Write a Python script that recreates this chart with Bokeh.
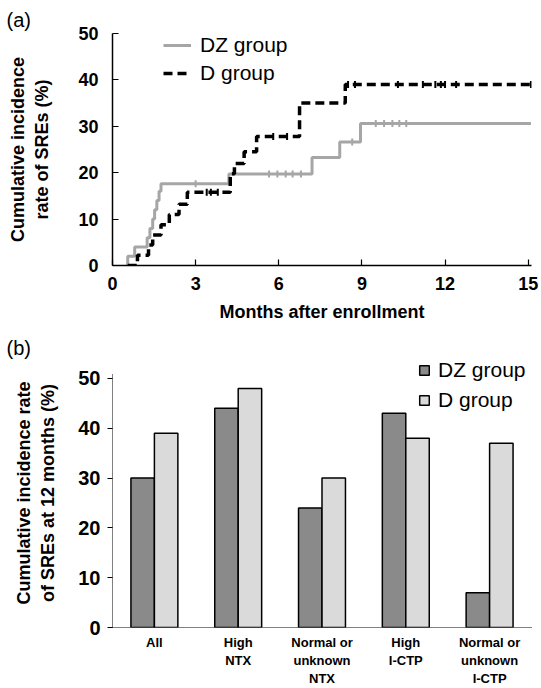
import math
from bokeh.plotting import figure
from bokeh.layouts import column
from bokeh.models import (Range1d, FactorRange, FixedTicker, Legend, LegendItem,
                          ColumnDataSource, Title)
from bokeh.transform import dodge
from bokeh.embed import file_html
from bokeh.resources import INLINE

FONT = "Liberation Sans"

# ---------------- panel (a): cumulative incidence curves ----------------
dz_months = [0.5, 0.55, 0.8, 1.25, 1.35, 1.45, 1.52, 1.6, 1.68, 1.75, 4.2, 7.2, 8.2, 8.95, 15.1]
dz_rate = [0.0, 2.0, 4.0, 6.0, 8.0, 10.0, 12.0, 14.0, 16.0, 17.6, 19.7, 23.3, 26.6, 30.6, 30.6]
d_months = [0.55, 0.9, 1.3, 1.45, 1.75, 2.05, 2.4, 2.7, 4.25, 4.4, 4.75, 5.2, 6.75, 8.4, 15.1]
d_rate = [0.0, 2.2, 4.4, 6.6, 8.8, 11.0, 13.2, 15.8, 19.8, 22.0, 24.5, 27.8, 35.0, 39.0, 39.0]

dz_cens_months = [3.0, 5.65, 5.95, 6.25, 6.5, 6.8, 8.65, 9.5, 9.8, 10.1, 10.35, 10.6]
dz_cens_rate = [17.6, 19.7, 19.7, 19.7, 19.7, 19.7, 26.6, 30.6, 30.6, 30.6, 30.6, 30.6]
d_cens_months = [3.4, 3.55, 3.8, 5.8, 6.3, 8.5, 8.75, 10.3, 11.2, 11.65, 11.85, 12.0, 12.4, 15.1]
d_cens_rate = [15.8, 15.8, 15.8, 27.8, 27.8, 39.0, 39.0, 39.0, 39.0, 39.0, 39.0, 39.0, 39.0, 39.0]

a_x_ticks = [0, 3, 6, 9, 12, 15]
a_y_ticks = [0, 10, 20, 30, 40, 50]

# ---------------- panel (b): incidence at 12 months ----------------
categories = ["All", "High\nNTX", "Normal or\nunknown\nNTX", "High\nI-CTP", "Normal or\nunknown\nI-CTP"]
dz_12m = [30, 44, 24, 43, 7]
d_12m = [39, 48, 30, 38, 37]
b_y_ticks = [0, 10, 20, 30, 40, 50]

DZ_LINE = "#a6a6a6"
DZ_BAR = "#8a8a8a"
D_BAR = "#dadada"


def style_common(p):
    p.outline_line_color = None
    p.xgrid.grid_line_color = None
    p.ygrid.grid_line_color = None
    p.background_fill_color = "white"
    p.border_fill_color = "white"


def panel_title(text, standoff):
    return Title(text=text, align="left", offset=-106, standoff=standoff,
                 text_font=FONT, text_font_size="20px", text_font_style="normal",
                 text_color="black")


# ======================= figure (a) =======================
pa = figure(width=541, height=334, output_backend="svg", toolbar_location=None,
            x_range=Range1d(0, 15.12), y_range=Range1d(0, 50),
            min_border_left=112, min_border_right=10, min_border_top=33,
            min_border_bottom=69)
style_common(pa)
pa.add_layout(panel_title("(a)", 6), "above")

dz_line = pa.step(dz_months, dz_rate, mode="after", line_color=DZ_LINE, line_width=3)
d_line = pa.step(d_months, d_rate, mode="after", line_color="black", line_width=3.5,
                 line_dash="9 5")
pa.scatter(dz_cens_months, dz_cens_rate, marker="dash", angle=math.pi / 2, size=7,
           line_color=DZ_LINE, line_width=2)
pa.scatter(d_cens_months, d_cens_rate, marker="dash", angle=math.pi / 2, size=7,
           line_color="black", line_width=2)

for ax in (pa.xaxis[0], pa.yaxis[0]):
    ax.axis_line_color = "black"
    ax.axis_line_width = 1.5
    ax.major_tick_line_color = "black"
    ax.major_tick_line_width = 1.2
    ax.major_tick_in = 6
    ax.major_tick_out = 0
    ax.minor_tick_line_color = None
    ax.major_label_text_font = FONT
    ax.major_label_text_font_style = "bold"
    ax.major_label_text_font_size = "18px"
    ax.major_label_text_color = "black"
    ax.axis_label_text_font = FONT
    ax.axis_label_text_font_style = "bold"
    ax.axis_label_text_font_size = "18px"
    ax.axis_label_text_color = "black"

pa.xaxis.ticker = FixedTicker(ticks=a_x_ticks)
pa.yaxis.ticker = FixedTicker(ticks=a_y_ticks)
pa.xaxis.major_label_standoff = 11
pa.yaxis.major_label_standoff = 14
pa.xaxis.axis_label = "Months after enrollment"
pa.xaxis.axis_label_standoff = 9
pa.yaxis.axis_label = "Cumulative incidence\nrate of SREs (%)"
pa.yaxis.axis_label_standoff = 23

leg_a = Legend(items=[LegendItem(label="DZ group", renderers=[dz_line]),
                      LegendItem(label="D group", renderers=[d_line])],
               location=(51, 180), orientation="vertical",
               border_line_color=None, background_fill_alpha=0,
               label_text_font=FONT, label_text_font_size="21px",
               label_text_color="black",
               glyph_width=28, glyph_height=24, label_height=24,
               label_standoff=9, spacing=4, padding=0, margin=0)
pa.add_layout(leg_a)

# ======================= figure (b) =======================
pb = figure(width=541, height=354, output_backend="svg", toolbar_location=None,
            x_range=FactorRange(*categories, range_padding=0),
            y_range=Range1d(0, 54),
            min_border_left=112, min_border_right=8, min_border_top=24,
            min_border_bottom=61)
style_common(pb)
pb.add_layout(panel_title("(b)", 0), "above")

src = ColumnDataSource(dict(cat=categories, dz=dz_12m, d=d_12m))
bar_dz = pb.vbar(x=dodge("cat", -0.14, range=pb.x_range), top="dz", width=0.28,
                 source=src, fill_color=DZ_BAR, line_color="black", line_width=1.5)
bar_d = pb.vbar(x=dodge("cat", 0.14, range=pb.x_range), top="d", width=0.28,
                source=src, fill_color=D_BAR, line_color="black", line_width=1.5)

for ax in (pb.xaxis[0], pb.yaxis[0]):
    ax.axis_line_color = "black"
    ax.axis_line_width = 1
    ax.axis_line_dash = "1 1"
    ax.minor_tick_line_color = None
    ax.major_label_text_font = FONT
    ax.major_label_text_font_style = "bold"
    ax.major_label_text_color = "black"
    ax.axis_label_text_font = FONT
    ax.axis_label_text_font_style = "bold"
    ax.axis_label_text_font_size = "18px"
    ax.axis_label_text_color = "black"

pb.yaxis.ticker = FixedTicker(ticks=b_y_ticks)
pb.yaxis.bounds = (0, 50.8)
pb.yaxis.major_tick_in = 0
pb.yaxis.major_tick_out = 5
pb.yaxis.major_tick_line_color = "black"
pb.yaxis.major_label_text_font_size = "20px"
pb.yaxis.major_label_standoff = 7
pb.yaxis.axis_label = "Cumulative incidence rate\nof SREs at 12 months (%)"
pb.yaxis.axis_label_standoff = 17

pb.xaxis.major_tick_line_color = None
pb.xaxis.major_tick_in = 0
pb.xaxis.major_tick_out = 0
pb.xaxis.major_label_text_font_size = "13px"
pb.xaxis.major_label_standoff = 7

leg_b = Legend(items=[LegendItem(label="DZ group", renderers=[bar_dz]),
                      LegendItem(label="D group", renderers=[bar_d])],
               location=(306, 215), orientation="vertical",
               border_line_color=None, background_fill_alpha=0,
               label_text_font=FONT, label_text_font_size="21px",
               label_text_color="black",
               glyph_width=12, glyph_height=12, label_height=12,
               label_standoff=8, spacing=6, padding=0, margin=0)
pb.add_layout(leg_b)

layout = column(pa, pb, spacing=0)
open("out.html", "w").write(file_html(layout, INLINE))
